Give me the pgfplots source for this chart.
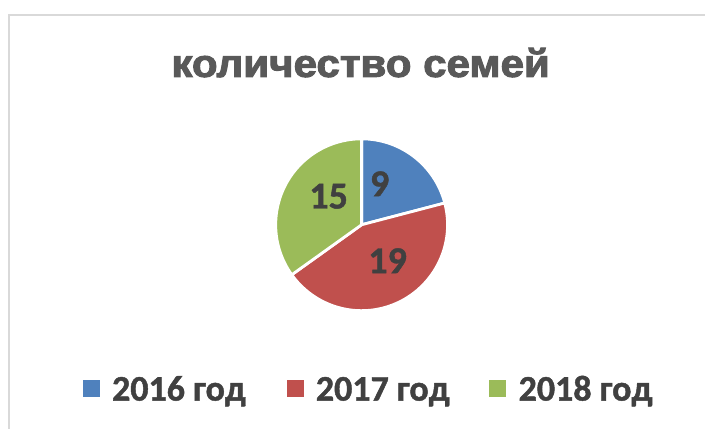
\documentclass[border=0pt]{standalone}
\usepackage{pgfplots}
\pgfplotsset{compat=1.18}
\usepackage{pgfplotstable}
\usepackage{fontspec}
\setmainfont{Liberation Sans}
\newfontfamily\titlefont[UprightFont={* Bold}, FakeBold=2.5]{Liberation Sans}
\newfontfamily\carlitoB[UprightFont={* Bold}, FakeBold=1.2]{Carlito}
\definecolor{cBlue}{HTML}{4F81BD}
\definecolor{cRed}{HTML}{C0504D}
\definecolor{cGreen}{HTML}{9BBB59}
\definecolor{cText}{HTML}{404040}
\definecolor{cTitle}{HTML}{595959}
\definecolor{cFrame}{HTML}{D9D9D9}
\pgfplotstableread{
year value
2016 9
2017 19
2018 15
}\pietable
\begin{document}
\begin{tikzpicture}
\pgfplotstablegetelem{0}{value}\of\pietable \let\vA\pgfplotsretval
\pgfplotstablegetelem{1}{value}\of\pietable \let\vB\pgfplotsretval
\pgfplotstablegetelem{2}{value}\of\pietable \let\vC\pgfplotsretval
\pgfmathsetmacro\tot{\vA+\vB+\vC}
\pgfmathsetmacro\aA{90}
\pgfmathsetmacro\aB{\aA-\vA/\tot*360}
\pgfmathsetmacro\aC{\aB-\vB/\tot*360}
\pgfmathsetmacro\aD{\aC-\vC/\tot*360}
\def\R{86pt}
\begin{axis}[hide axis, scale only axis, x=1pt, y=1pt,
  xmin=0, xmax=706, ymin=0, ymax=429, clip=false]
\path[fill=white] (axis cs:0,0) rectangle (axis cs:706,429);
\draw[cFrame, line width=1.5pt] (axis cs:9,0) -- (axis cs:9,414) -- (axis cs:706,414);
\node[cTitle, anchor=base, inner sep=0pt, xscale=1.08, font=\titlefont\fontsize{39}{44}\selectfont] at (axis cs:361,352) {количество семей};
% pie slices
\fill[cBlue, draw=white, line width=2.8pt, line join=round] (axis cs:362,204) -- ([shift={(\aA:\R)}]axis cs:362,204) arc[start angle=\aA, end angle=\aB, radius=\R] -- cycle;
\fill[cRed, draw=white, line width=2.8pt, line join=round] (axis cs:362,204) -- ([shift={(\aB:\R)}]axis cs:362,204) arc[start angle=\aB, end angle=\aC, radius=\R] -- cycle;
\fill[cGreen, draw=white, line width=2.8pt, line join=round] (axis cs:362,204) -- ([shift={(\aC:\R)}]axis cs:362,204) arc[start angle=\aC, end angle=\aD, radius=\R] -- cycle;
% data labels
\node[cText, inner sep=0pt, font=\carlitoB\fontsize{38}{42}\selectfont] at (axis cs:380,245) {9};
\node[cText, inner sep=0pt, font=\carlitoB\fontsize{38}{42}\selectfont] at (axis cs:329,232.5) {15};
\node[cText, inner sep=0pt, font=\carlitoB\fontsize{38}{42}\selectfont] at (axis cs:388,168) {19};
% legend
\fill[cBlue] (axis cs:83,32) rectangle (axis cs:100,49);
\fill[cRed] (axis cs:287,32) rectangle (axis cs:304,49);
\fill[cGreen] (axis cs:490,32) rectangle (axis cs:507,49);
\node[cText, anchor=base west, inner sep=0pt, font=\carlitoB\fontsize{36}{40}\selectfont] at (axis cs:112,28) {2016 год};
\node[cText, anchor=base west, inner sep=0pt, font=\carlitoB\fontsize{36}{40}\selectfont] at (axis cs:316,28) {2017 год};
\node[cText, anchor=base west, inner sep=0pt, font=\carlitoB\fontsize{36}{40}\selectfont] at (axis cs:519,28) {2018 год};
\end{axis}
\end{tikzpicture}
\end{document}
